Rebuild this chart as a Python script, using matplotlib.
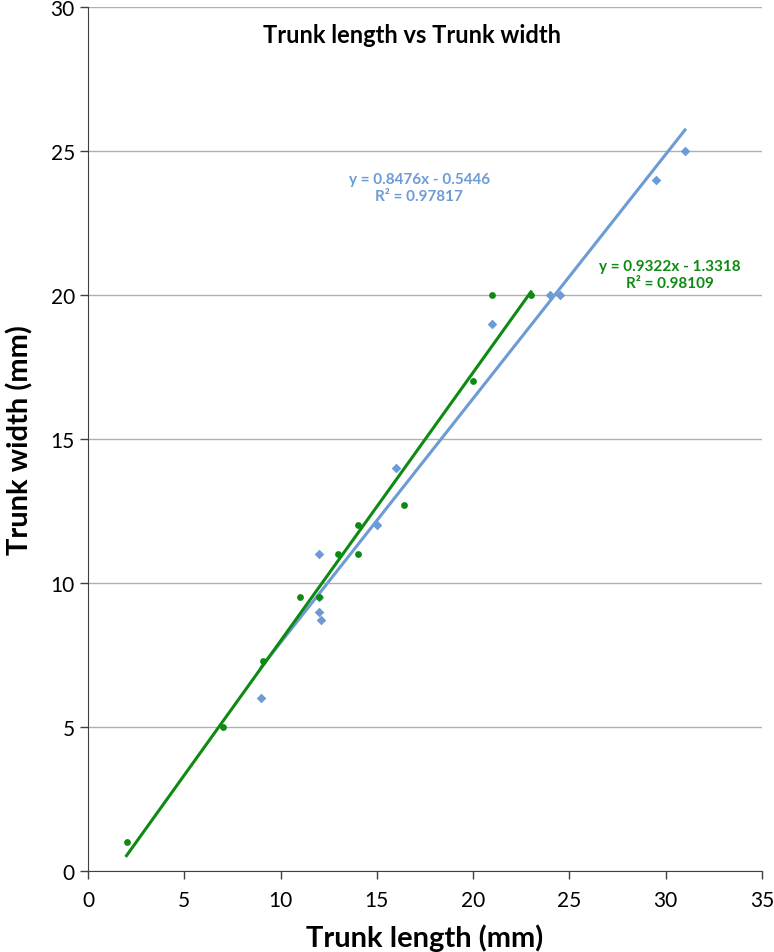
import matplotlib
matplotlib.use("Agg")
import numpy as np
import matplotlib.pyplot as plt

# Blue series (diamonds)
blue_x = [9, 12, 12, 12.1, 12, 15, 16, 21, 24, 24.5, 29.5, 31]
blue_y = [6, 11, 9, 8.7, 9.5, 12, 14, 19, 20, 20, 24, 25]
blue_slope, blue_icpt = 0.8476, -0.5446
blue_eq = "y = 0.8476x - 0.5446\nR² = 0.97817"

# Green series (circles)
green_x = [2, 7, 9.1, 11, 12, 13, 14, 14, 16.4, 20, 21, 23]
green_y = [1, 5, 7.3, 9.5, 9.5, 11, 12, 11, 12.7, 17, 20, 20]
green_slope, green_icpt = 0.9322, -1.3318
green_eq = "y = 0.9322x - 1.3318\nR² = 0.98109"

title = "Trunk length vs Trunk width"
x_label = "Trunk length (mm)"
y_label = "Trunk width (mm)"

BLUE = "#6C9BD5"
GREEN = "#0E8A12"

plt.rcParams["font.family"] = ["Lato", "DejaVu Sans"]

fig = plt.figure(figsize=(7.74, 9.53), dpi=100)
ax = fig.add_axes([0.1137, 0.085, 0.8708, 0.9066])

ax.set_xlim(0, 35)
ax.set_ylim(0, 30)
ax.set_xticks(np.arange(0, 36, 5))
ax.set_yticks(np.arange(0, 31, 5))
ax.yaxis.grid(True, color="#b0b0b0", linewidth=1)
ax.set_axisbelow(True)
for s in ["top", "right"]:
    ax.spines[s].set_visible(False)
for s in ["left", "bottom"]:
    ax.spines[s].set_color("#404040")
ax.tick_params(axis="both", labelsize=15, length=6, color="#404040", width=1)
ax.tick_params(axis="x", pad=8)

# trendlines
bx = np.array([min(blue_x), max(blue_x)])
ax.plot(bx, blue_slope * bx + blue_icpt, color=BLUE, linewidth=2.2, zorder=2)
gx = np.array([min(green_x), max(green_x)])
ax.plot(gx, green_slope * gx + green_icpt, color=GREEN, linewidth=2.2, zorder=3)

ax.scatter(blue_x, blue_y, marker="D", s=24, color=BLUE, zorder=4, linewidths=0)
ax.scatter(green_x, green_y, marker="o", s=24, color=GREEN, zorder=5, linewidths=0)

ax.text(17.2, 23.73, blue_eq, color=BLUE, fontsize=11, fontweight="bold",
        ha="center", va="center", linespacing=1.3)
ax.text(30.2, 20.7, green_eq, color=GREEN, fontsize=11, fontweight="bold",
        ha="center", va="center", linespacing=1.3)

ax.text(16.85, 29.06, title, fontsize=17, fontweight="bold", ha="center", va="center")
ax.set_xlabel(x_label, fontsize=21, fontweight="bold", labelpad=9)
ax.set_ylabel(y_label, fontsize=21, fontweight="bold", labelpad=12)

fig.savefig("out.png", dpi=100)
